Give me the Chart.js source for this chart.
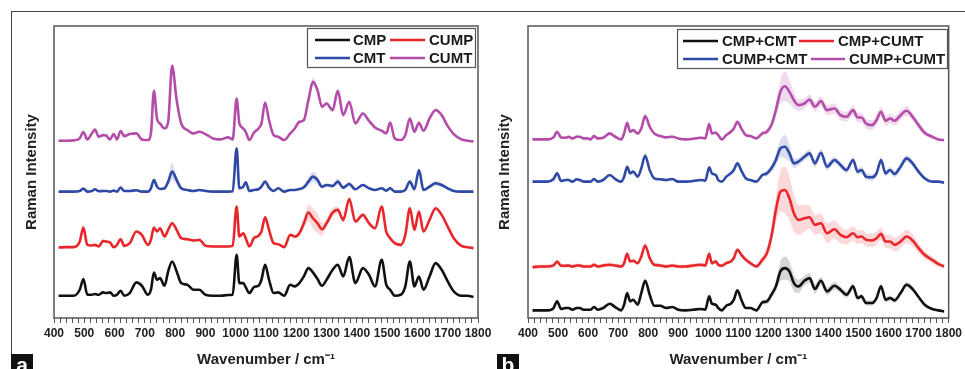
<!DOCTYPE html>
<html>
<head>
<meta charset="utf-8">
<script src="https://cdn.jsdelivr.net/npm/chart.js@4.4.1/dist/chart.umd.min.js"></script>
<style>
  html, body { margin: 0; padding: 0; background: #fff; }
  body { width: 965px; height: 369px; position: relative; overflow: hidden; font-family: "Liberation Sans", Arial, sans-serif; }
  .frame { position: absolute; left: 11px; top: 11px; width: 970px; height: 380px; border-top: 1px solid #444; border-left: 1px solid #444; }
  .wrap { position: absolute; top: 0; height: 369px; }
  #wrapA { left: 0; width: 495px; }
  #wrapB { left: 480px; width: 485px; }
  .tag { position: absolute; top: 354px; width: 22px; height: 18px; background: #111; color: #fff; font-weight: bold; font-size: 21px; line-height: 22px; text-align: center; }
</style>
</head>
<body>
<div class="frame"></div>
<div class="wrap" id="wrapA"><canvas id="chartA" width="495" height="369"></canvas></div>
<div class="wrap" id="wrapB"><canvas id="chartB" width="485" height="369"></canvas></div>
<div class="tag" style="left:11px">a</div>
<div class="tag" style="left:497px">b</div>
<script>
// Wavenumber grid (cm-1) the spectra were read at
const wavenumber = [415, 440, 465, 485, 497, 510, 525, 535, 548, 562,
    572, 585, 597, 608, 620, 632, 650, 672, 690, 710,
    720, 730, 740, 750, 765, 777, 790, 805, 820, 840,
    860, 880, 900, 925, 950, 975, 990, 1003, 1012, 1025,
    1033, 1045, 1060, 1075, 1085, 1097, 1110, 1125, 1140, 1160,
    1180, 1195, 1210, 1225, 1240, 1255, 1270, 1285, 1300, 1320,
    1337, 1355, 1375, 1395, 1420, 1440, 1460, 1482, 1497, 1510,
    1525, 1545, 1560, 1575, 1590, 1605, 1620, 1640, 1660, 1680,
    1700, 1720, 1745, 1765, 1785];

const xTickLabels = [400, 500, 600, 700, 800, 900, 1000, 1100, 1200, 1300, 1400, 1500, 1600, 1700, 1800];

// Panel a (offset spectra, arbitrary units)
const namesA = ['CMP', 'CUMP', 'CMT', 'CUMT'];
const cmpA = [67, 67, 67, 85, 117, 70, 70, 72, 70, 77,
    75, 77, 67, 70, 82, 67, 75, 107, 97, 70,
    85, 137, 115, 120, 97, 140, 170, 140, 105, 100,
    85, 85, 70, 67, 67, 69, 70, 190, 105, 105,
    93, 75, 93, 97, 115, 160, 115, 75, 77, 67,
    100, 95, 105, 125, 150, 137, 117, 97, 115, 145,
    160, 125, 183, 105, 150, 130, 95, 175, 100, 85,
    67, 70, 95, 170, 95, 125, 85, 125, 165, 145,
    110, 80, 67, 67, 63];
const cumpA = [212, 213, 213, 230, 272, 220, 218, 220, 215, 232,
    230, 227, 213, 220, 237, 217, 225, 260, 250, 220,
    235, 272, 260, 270, 245, 265, 285, 265, 240, 237,
    233, 235, 217, 215, 215, 215, 217, 335, 245, 255,
    240, 215, 240, 247, 260, 303, 265, 225, 222, 213,
    250, 245, 255, 285, 317, 300, 285, 267, 285, 317,
    325, 295, 358, 290, 310, 285, 270, 335, 260, 240,
    225, 220, 250, 330, 265, 320, 260, 295, 330, 310,
    275, 240, 217, 213, 210];
const cmtA = [380, 380, 380, 382, 389, 380, 382, 387, 381, 382,
    382, 380, 383, 380, 392, 382, 382, 384, 380, 380,
    390, 415, 395, 388, 390, 410, 440, 415, 390, 385,
    382, 385, 382, 380, 380, 380, 381, 510, 390, 395,
    408, 382, 385, 387, 395, 410, 392, 382, 390, 380,
    385, 385, 388, 393, 410, 425, 415, 395, 400, 397,
    410, 392, 403, 387, 400, 390, 385, 390, 383, 390,
    380, 380, 385, 410, 387, 445, 385, 395, 405, 400,
    390, 382, 380, 380, 380];
const cumtA = [533, 533, 534, 540, 559, 537, 555, 567, 545, 550,
    549, 537, 553, 537, 562, 547, 553, 555, 537, 535,
    555, 683, 600, 585, 570, 590, 758, 655, 585, 565,
    555, 560, 553, 540, 537, 543, 537, 660, 585, 570,
    560, 535, 557, 570, 585, 648, 595, 550, 545, 535,
    555, 570, 590, 595, 655, 710, 685, 635, 645, 625,
    683, 610, 650, 585, 615, 593, 573, 563, 555, 588,
    540, 535, 550, 600, 560, 587, 563, 600, 625, 610,
    577, 553, 537, 533, 531];
// standard deviation bands, panel a
const sdCumpA = [3, 3, 3, 3, 3, 3, 3, 3, 3, 3,
    3, 3, 3, 3, 3, 3, 3, 3, 3, 3,
    3, 3, 3, 3, 3, 3, 3, 3, 3, 3,
    3, 3, 3, 3, 3, 3, 3, 3, 3, 3,
    3, 3, 3, 3, 3, 5, 3, 3, 3, 3,
    4, 5, 8, 15, 25, 30, 30, 20, 10, 15,
    10, 10, 8, 6, 6, 5, 5, 5, 4, 4,
    4, 4, 4, 5, 4, 4, 4, 4, 5, 4,
    3, 3, 3, 3, 3];
const sdCmtA = [3, 3, 3, 3, 3, 3, 3, 3, 3, 3,
    3, 3, 3, 3, 3, 3, 3, 3, 3, 3,
    3, 3, 3, 3, 5, 12, 25, 12, 3, 3,
    3, 3, 3, 3, 3, 3, 3, 3, 3, 3,
    3, 3, 3, 3, 3, 3, 3, 3, 3, 3,
    3, 3, 3, 6, 12, 15, 12, 6, 5, 5,
    10, 5, 8, 4, 4, 4, 4, 4, 4, 4,
    4, 4, 4, 4, 4, 4, 4, 6, 8, 6,
    3, 3, 3, 3, 3];
const sdCumtA = [3, 3, 3, 3, 3, 3, 3, 3, 3, 3,
    3, 3, 3, 3, 3, 3, 3, 3, 3, 3,
    3, 5, 3, 3, 3, 4, 8, 4, 3, 3,
    3, 3, 3, 3, 3, 3, 3, 3, 3, 3,
    3, 3, 3, 3, 3, 3, 3, 3, 3, 3,
    3, 3, 4, 5, 10, 12, 10, 6, 5, 5,
    5, 4, 4, 4, 4, 3, 3, 3, 3, 3,
    3, 3, 3, 3, 3, 3, 3, 3, 3, 3,
    3, 3, 3, 3, 3];

// Panel b
const namesB = ['CMP+CMT', 'CMP+CUMT', 'CUMP+CMT', 'CUMP+CUMT'];
const cmpCmtB = [23, 23, 23, 30, 50, 27, 30, 30, 25, 30,
    30, 25, 25, 25, 33, 25, 30, 43, 33, 23,
    40, 75, 50, 55, 40, 75, 112, 70, 37, 37,
    30, 33, 25, 23, 25, 27, 25, 65, 43, 40,
    30, 23, 37, 43, 55, 83, 55, 30, 30, 23,
    47, 50, 70, 95, 140, 150, 140, 105, 95, 112,
    120, 87, 112, 80, 97, 85, 70, 95, 60, 65,
    45, 45, 60, 95, 55, 60, 53, 75, 100, 87,
    63, 40, 27, 23, 20];
const cmpCumtB = [153, 155, 155, 158, 170, 157, 157, 158, 155, 158,
    158, 155, 155, 155, 160, 155, 158, 160, 158, 155,
    165, 193, 170, 172, 165, 185, 218, 180, 160, 158,
    155, 158, 155, 155, 158, 160, 158, 193, 165, 170,
    160, 157, 165, 170, 180, 205, 190, 175, 165, 155,
    175, 195, 245, 325, 380, 385, 360, 315, 295, 300,
    303, 280, 285, 255, 267, 250, 243, 255, 243, 245,
    235, 233, 240, 253, 230, 230, 220, 230, 245, 233,
    210, 190, 175, 163, 155];
const cumpCmtB = [410, 410, 410, 418, 435, 412, 415, 415, 410, 417,
    415, 410, 410, 410, 418, 410, 415, 430, 418, 410,
    425, 455, 435, 440, 425, 450, 488, 445, 420, 417,
    415, 418, 410, 410, 412, 415, 413, 453, 435, 430,
    415, 410, 425, 435, 445, 465, 443, 420, 415, 410,
    430, 435, 450, 475, 510, 515, 495, 465, 470, 485,
    495, 465, 497, 455, 475, 460, 445, 475, 440, 445,
    425, 423, 435, 475, 435, 445, 433, 455, 480, 465,
    440, 420, 410, 410, 407];
const cumpCumtB = [537, 537, 537, 543, 560, 543, 542, 545, 540, 545,
    545, 540, 540, 537, 547, 540, 542, 555, 545, 537,
    555, 587, 560, 565, 555, 570, 607, 575, 555, 547,
    543, 545, 540, 537, 539, 542, 540, 583, 555, 557,
    550, 537, 550, 560, 570, 590, 570, 550, 547, 540,
    555, 560, 580, 625, 680, 697, 680, 655, 640, 645,
    657, 635, 652, 625, 630, 610, 605, 625, 603, 603,
    585, 580, 595, 620, 593, 600, 593, 610, 623, 605,
    580, 557, 545, 537, 535];
// standard deviation bands, panel b
const sdCmpCmtB = [4, 4, 4, 4, 4, 4, 4, 4, 4, 4,
    4, 4, 4, 4, 4, 4, 4, 4, 4, 4,
    4, 4, 4, 4, 4, 4, 6, 4, 4, 4,
    4, 4, 4, 4, 4, 4, 4, 4, 4, 4,
    4, 4, 4, 4, 4, 4, 4, 4, 4, 4,
    6, 8, 10, 15, 30, 35, 30, 25, 20, 15,
    15, 15, 12, 12, 12, 10, 10, 10, 8, 8,
    8, 8, 8, 8, 8, 8, 8, 8, 8, 8,
    6, 5, 4, 4, 4];
const sdCmpCumtB = [6, 6, 6, 6, 6, 6, 6, 6, 6, 6,
    6, 6, 6, 6, 6, 6, 6, 6, 6, 6,
    6, 6, 6, 6, 6, 6, 8, 6, 6, 6,
    6, 6, 6, 6, 6, 6, 6, 6, 6, 6,
    6, 6, 6, 6, 6, 6, 6, 6, 6, 6,
    10, 15, 25, 40, 60, 70, 65, 55, 45, 40,
    35, 30, 30, 30, 28, 25, 22, 22, 20, 20,
    20, 20, 20, 20, 20, 20, 20, 20, 20, 18,
    15, 12, 10, 8, 6];
const sdCumpCmtB = [4, 4, 4, 4, 4, 4, 4, 4, 4, 4,
    4, 4, 4, 4, 4, 4, 4, 4, 4, 4,
    4, 4, 4, 4, 4, 4, 8, 4, 4, 4,
    4, 4, 4, 4, 4, 4, 4, 4, 4, 4,
    4, 4, 4, 4, 4, 4, 4, 4, 4, 4,
    6, 8, 12, 18, 25, 35, 25, 15, 12, 12,
    12, 12, 12, 12, 10, 10, 10, 10, 10, 10,
    10, 10, 10, 10, 10, 10, 10, 10, 10, 10,
    8, 6, 4, 4, 4];
const sdCumpCumtB = [4, 4, 4, 4, 4, 4, 4, 4, 4, 4,
    4, 4, 4, 4, 4, 4, 4, 4, 4, 4,
    4, 4, 4, 4, 4, 4, 6, 4, 4, 4,
    4, 4, 4, 4, 4, 4, 4, 4, 4, 4,
    4, 4, 4, 4, 4, 4, 4, 4, 4, 4,
    6, 8, 12, 22, 35, 45, 35, 25, 18, 15,
    15, 15, 15, 15, 15, 15, 15, 15, 15, 15,
    15, 15, 15, 15, 15, 15, 15, 15, 15, 12,
    10, 8, 6, 4, 4];

const lineColors = ['#111111', '#e8262b', '#2f4aa6', '#b44ca9'];
const bandColors = ['rgba(0,0,0,0.16)', 'rgba(232,38,43,0.18)', 'rgba(47,74,166,0.18)', 'rgba(180,76,169,0.2)'];

function toPoints(values, sd, sign) {
    return wavenumber.map((x, i) => ({ x: x, y: values[i] + (sd ? sign * sd[i] : 0) }));
}

// Frame around the plot area
const framePlugin = {
    id: 'frame',
    afterDatasetsDraw(chart) {
        const { ctx, chartArea: a } = chart;
        ctx.save();
        ctx.strokeStyle = '#555';
        ctx.lineWidth = 1.5;
        ctx.strokeRect(a.left, a.top, a.right - a.left, a.bottom - a.top);
        ctx.restore();
    }
};

// Two-column boxed legend like the original figure
const boxLegendPlugin = {
    id: 'boxLegend',
    afterDraw(chart, args, opts) {
        const { ctx } = chart;
        const b = opts.box;
        ctx.save();
        ctx.fillStyle = '#fff';
        ctx.fillRect(b.x, b.y, b.w, b.h);
        ctx.strokeStyle = '#555';
        ctx.lineWidth = 1.2;
        ctx.strokeRect(b.x + 0.5, b.y + 0.5, b.w, b.h);
        ctx.font = 'bold 15px "Liberation Sans", Arial, sans-serif';
        ctx.textBaseline = 'middle';
        opts.items.forEach((it, i) => {
            ctx.strokeStyle = lineColors[i];
            ctx.lineWidth = 2.5;
            ctx.beginPath();
            ctx.moveTo(it.x1, it.y);
            ctx.lineTo(it.x2, it.y);
            ctx.stroke();
            ctx.fillStyle = '#1a1a1a';
            ctx.fillText(chart.data.datasets[i].label, it.tx, it.y + 1);
        });
        ctx.restore();
    }
};

function makeChart(id, names, series, sds, opts) {
    const datasets = [];
    series.forEach((vals, i) => {
        datasets.push({
            label: names[i],
            data: toPoints(vals),
            borderColor: lineColors[i],
            borderWidth: 2.6,
            pointRadius: 0,
            cubicInterpolationMode: 'monotone',
            fill: false
        });
    });
    sds.forEach((sd, i) => {
        if (!sd) return;
        const lowIdx = datasets.length;
        datasets.push({
            label: names[i] + ' low',
            data: toPoints(series[i], sd, -1),
            borderWidth: 0,
            pointRadius: 0,
            cubicInterpolationMode: 'monotone',
            fill: false
        });
        datasets.push({
            label: names[i] + ' high',
            data: toPoints(series[i], sd, 1),
            borderWidth: 0,
            pointRadius: 0,
            cubicInterpolationMode: 'monotone',
            backgroundColor: bandColors[i],
            fill: { target: lowIdx }
        });
    });

    return new Chart(document.getElementById(id), {
        type: 'line',
        data: { datasets: datasets },
        plugins: [framePlugin, boxLegendPlugin],
        options: {
            responsive: false,
            animation: false,
            layout: { padding: { left: 0, top: 26, right: opts.padRight, bottom: 0 } },
            plugins: {
                legend: { display: false },
                tooltip: { enabled: false },
                boxLegend: { box: opts.legendBox, items: opts.legendItems }
            },
            scales: {
                x: {
                    type: 'linear',
                    min: 400,
                    max: 1800,
                    afterFit: s => { s.height = 51; },
                    border: { display: false },
                    grid: { display: true, drawOnChartArea: false, drawTicks: true, tickLength: 5, color: '#555', lineWidth: 1 },
                    ticks: {
                        stepSize: 20,
                        autoSkip: false,
                        maxRotation: 0,
                        padding: 3,
                        color: '#222',
                        font: { family: '"Liberation Sans", Arial, sans-serif', size: 12, weight: 'bold' },
                        callback: v => xTickLabels.includes(v) ? String(v) : ''
                    },
                    title: {
                        display: true,
                        text: 'Wavenumber / cm\u207B\u00B9',
                        color: '#222',
                        padding: { top: 2, bottom: 0 },
                        font: { family: '"Liberation Sans", Arial, sans-serif', size: 15, weight: 'bold' }
                    }
                },
                y: {
                    min: 0,
                    max: 878,
                    afterFit: s => { s.width = opts.yWidth; },
                    border: { display: false },
                    grid: { display: false },
                    ticks: { display: false },
                    title: {
                        display: true,
                        text: 'Raman Intensity',
                        color: '#222',
                        padding: { top: opts.yTitlePad, bottom: 0 },
                        font: { family: '"Liberation Sans", Arial, sans-serif', size: 15, weight: 'bold' }
                    }
                }
            }
        }
    });
}

makeChart('chartA', namesA, [cmpA, cumpA, cmtA, cumtA], [null, sdCumpA, sdCmtA, sdCumtA], {
    padRight: 17,
    yWidth: 54,
    yTitlePad: 23,
    legendBox: { x: 307, y: 28, w: 168, h: 39 },
    legendItems: [
        { x1: 315, x2: 350, tx: 353, y: 40 },
        { x1: 390, x2: 425, tx: 429, y: 40 },
        { x1: 315, x2: 350, tx: 353, y: 58 },
        { x1: 390, x2: 425, tx: 429, y: 58 }
    ]
});

makeChart('chartB', namesB, [cmpCmtB, cmpCumtB, cumpCmtB, cumpCumtB], [sdCmpCmtB, sdCmpCumtB, sdCumpCmtB, sdCumpCumtB], {
    padRight: 12,
    yWidth: 48,
    yTitlePad: 16,
    legendBox: { x: 197, y: 29, w: 270, h: 39 },
    legendItems: [
        { x1: 203, x2: 238, tx: 242, y: 41 },
        { x1: 319, x2: 354, tx: 358, y: 41 },
        { x1: 203, x2: 238, tx: 242, y: 59 },
        { x1: 331, x2: 365, tx: 369, y: 59 }
    ]
});
</script>
</body>
</html>
